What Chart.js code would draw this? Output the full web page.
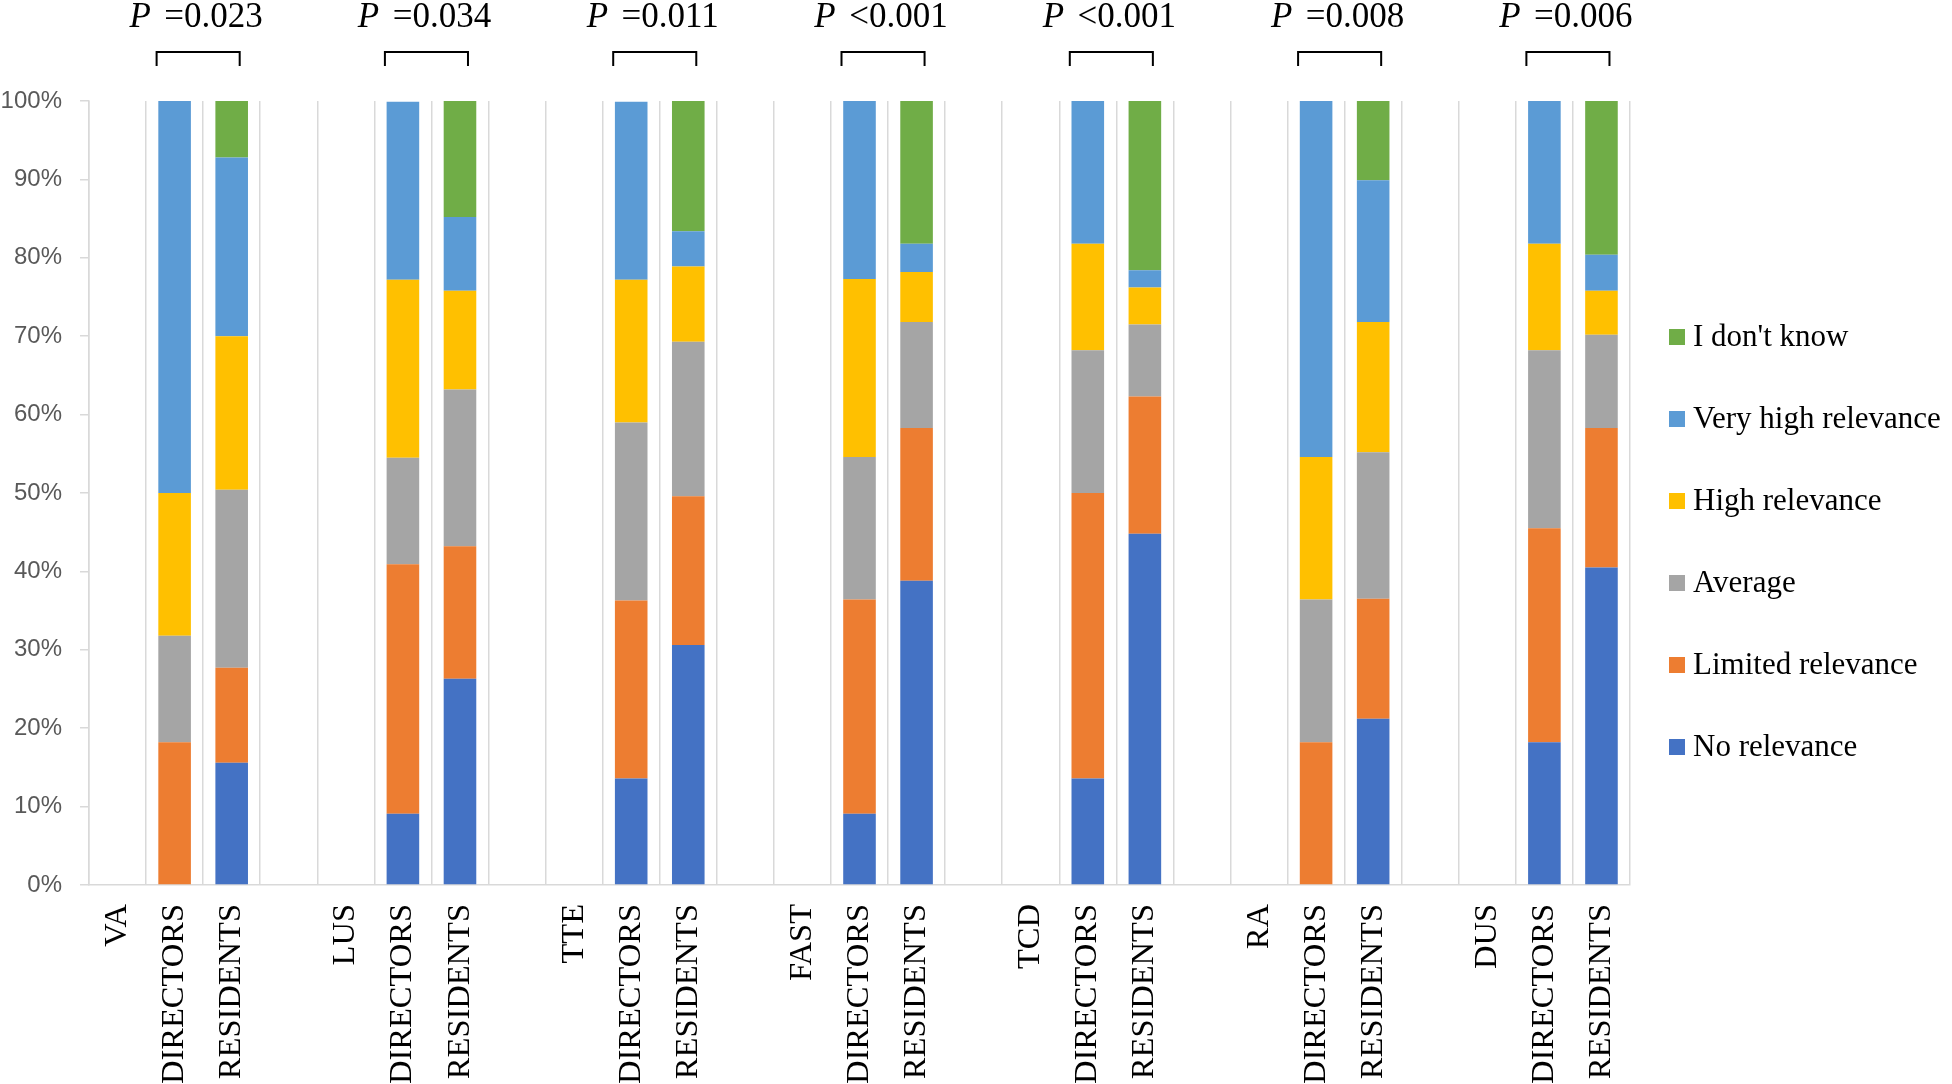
<!DOCTYPE html>
<html>
<head>
<meta charset="utf-8">
<script src="https://cdn.jsdelivr.net/npm/chart.js@4.4.1/dist/chart.umd.min.js"></script>
<style>
html,body{margin:0;padding:0;background:#fff;}
#wrap{width:1952px;height:1084px;}
</style>
</head>
<body>
<div id="wrap"><canvas id="c" width="1952" height="1084"></canvas></div>
<script>
// ---- Data ----
const groups = ['VA','LUS','TTE','FAST','TCD','RA','DUS'];
const pValues = ['=0.023','=0.034','=0.011','<0.001','<0.001','=0.008','=0.006'];
const seriesNames = ['No relevance','Limited relevance','Average','High relevance','Very high relevance',"I don't know"];

// Directors (% of respondents) per technique, in order of groups
const dirNo        = [0,    9.1,  13.6, 9.1,  13.6, 0,    18.2];
const dirLimited   = [18.2, 31.8, 22.7, 27.3, 36.4, 18.2, 27.3];
const dirAverage   = [13.6, 13.6, 22.7, 18.2, 18.2, 18.2, 22.7];
const dirHigh      = [18.2, 22.7, 18.2, 22.7, 13.6, 18.2, 13.6];
const dirVeryHigh  = [50.0, 22.7, 22.7, 22.7, 18.2, 45.5, 18.2];
const dirDontKnow  = [0,    0,    0,    0,    0,    0,    0];

// Residents (% of respondents)
const resNo        = [15.6, 26.3, 30.6, 38.8, 44.8, 21.2, 40.5];
const resLimited   = [12.1, 16.9, 19.0, 19.5, 17.5, 15.3, 17.8];
const resAverage   = [22.7, 20.0, 19.7, 13.5, 9.2,  18.7, 11.9];
const resHigh      = [19.6, 12.6, 9.6,  6.4,  4.7,  16.6, 5.6];
const resVeryHigh  = [22.8, 9.4,  4.5,  3.6,  2.2,  18.1, 4.6];
const resDontKnow  = [7.2,  14.8, 16.6, 18.2, 21.6, 10.1, 19.6];

const colors = ['#4472C4','#ED7D31','#A5A5A5','#FFC000','#5B9BD5','#70AD47'];

// ---- Build categories: [technique, DIRECTORS, RESIDENTS, (gap)] ----
const labels = [];
groups.forEach((g,i)=>{
  labels.push(g,'DIRECTORS','RESIDENTS');
  if (i < groups.length-1) labels.push('');
});
function build(dirArr, resArr){
  const out = [];
  groups.forEach((g,i)=>{
    out.push(null, dirArr[i], resArr[i]);
    if (i < groups.length-1) out.push(null);
  });
  return out;
}
const dirSets = [dirNo,dirLimited,dirAverage,dirHigh,dirVeryHigh,dirDontKnow];
const resSets = [resNo,resLimited,resAverage,resHigh,resVeryHigh,resDontKnow];
const datasets = seriesNames.map((n,k)=>({
  label:n,
  data:build(dirSets[k],resSets[k]),
  backgroundColor:colors[k],
  borderWidth:0,
  barPercentage:0.571,
  categoryPercentage:1.0
}));

const SERIF = '"Liberation Serif", "Times New Roman", serif';
const SANS = '"Liberation Sans", Arial, sans-serif';

const annot = {
  id:'annot',
  afterDraw(chart){
    const ctx = chart.ctx, xs = chart.scales.x, top = chart.chartArea.top;
    ctx.save();
    groups.forEach((g,i)=>{
      const xd = xs.getPixelForValue(i*4+1);
      const xr = xs.getPixelForValue(i*4+2);
      // bracket
      ctx.strokeStyle = '#000'; ctx.lineWidth = 2;
      ctx.beginPath();
      ctx.moveTo(xd-18, top-35);
      ctx.lineTo(xd-18, top-49);
      ctx.lineTo(xr+8, top-49);
      ctx.lineTo(xr+8, top-35);
      ctx.stroke();
      // P text
      const mid = (xd+xr)/2 - 5;
      const fI = 'italic 35px ' + SERIF, fR = '35px ' + SERIF;
      const rest = '  ' + pValues[i];
      ctx.font = fI; const wP = ctx.measureText('P').width;
      ctx.font = fR; const wR = ctx.measureText(rest).width;
      const x0 = mid - (wP+wR)/2;
      ctx.fillStyle = '#000'; ctx.textBaseline = 'alphabetic'; ctx.textAlign = 'left';
      ctx.font = fI; ctx.fillText('P', x0, top-74);
      ctx.font = fR; ctx.fillText(rest, x0+wP-4, top-74);
    });
    // legend (reverse order, top = I don't know)
    const n = chart.data.datasets.length;
    const spacing = 82;
    const cy = chart.height/2;
    ctx.font = '31px ' + SERIF; ctx.textBaseline = 'middle'; ctx.textAlign = 'left';
    for (let k=0;k<n;k++){
      const ds = chart.data.datasets[n-1-k];
      const y = cy + (k - (n-1)/2)*spacing;
      ctx.fillStyle = ds.backgroundColor;
      ctx.fillRect(1669, y-8, 16, 16);
      ctx.fillStyle = '#000';
      ctx.fillText(ds.label, 1693, y+1);
    }
    ctx.restore();
  }
};

new Chart(document.getElementById('c'), {
  type:'bar',
  data:{labels, datasets},
  plugins:[annot],
  options:{
    responsive:false,
    animation:false,
    devicePixelRatio:1,
    layout:{padding:{top:101, right:322, left:0, bottom:0}},
    plugins:{legend:{display:false}, tooltip:{enabled:false}},
    scales:{
      x:{
        stacked:true,
        offset:true,
        grid:{color:'#d9d9d9', lineWidth:1.5, drawTicks:false, offset:true},
        border:{color:'#d9d9d9', width:1.5},
        ticks:{autoSkip:false, maxRotation:90, minRotation:90, padding:19, color:'#000', font:{family:SERIF, size:32.5}},
        afterFit(s){ s.height = 199; }
      },
      y:{
        stacked:true, min:0, max:100,
        grid:{drawOnChartArea:false, drawTicks:true, tickLength:9, color:'#d9d9d9', lineWidth:1.5},
        border:{color:'#d9d9d9', width:1.5},
        ticks:{stepSize:10, padding:18, color:'#595959', font:{family:SANS, size:24}, callback:v=>v+'%'},
        afterFit(s){ s.width = 89; }
      }
    }
  }
});
</script>
</body>
</html>
